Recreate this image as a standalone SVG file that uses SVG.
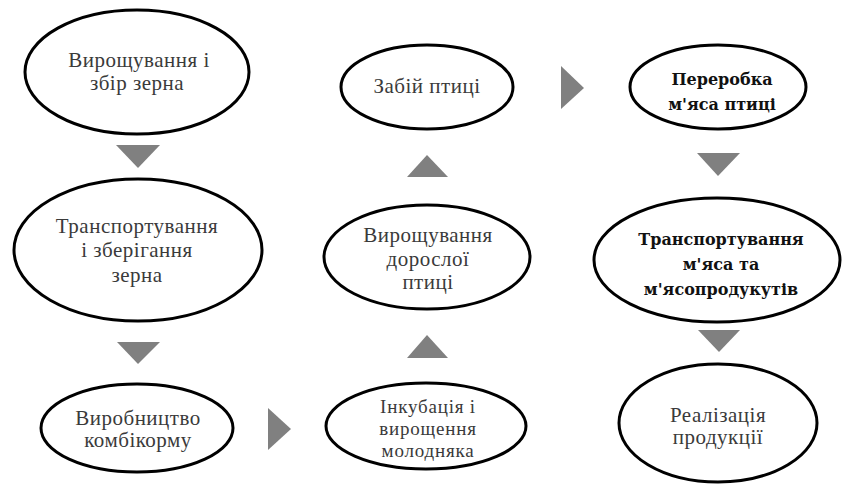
<svg xmlns="http://www.w3.org/2000/svg" width="848" height="488" viewBox="0 0 848 488">
<style>
.n ellipse{fill:#fff;stroke:#000;stroke-width:3}
.t{font-family:"Liberation Serif","Times New Roman",serif;font-size:21px;letter-spacing:0.5px;fill:#3a3a3a;text-anchor:middle}
.s{font-size:19px;letter-spacing:0.8px}
.b{font-family:"DejaVu Serif",serif;font-size:16px;font-weight:bold;fill:#111;text-anchor:middle}
.a{fill:#808080}
</style>
<rect width="848" height="488" fill="#fff"/>
<g id="connectors">
<polygon class="a" points="116,145 160,145 138,168"/>
<polygon class="a" points="117,342 160,342 138,364"/>
<polygon class="a" points="268,408 268,450 291,429"/>
<polygon class="a" points="407,358 448,358 427,335"/>
<polygon class="a" points="407,177 448,177 427,155"/>
<polygon class="a" points="561,66 561,109 584,88"/>
<polygon class="a" points="697,153 740,153 718,176"/>
<polygon class="a" points="698,330 740,330 719,352"/>
</g>
<g id="n1" class="n"><ellipse cx="137" cy="72" rx="112" ry="62"/><text class="t" x="139" y="67">Вирощування і</text><text class="t" x="137" y="90">збір зерна</text></g>
<g id="n2" class="n"><ellipse cx="138" cy="250" rx="124" ry="71"/><text class="t" x="137" y="233">Транспортування</text><text class="t" x="137" y="257">і зберігання</text><text class="t" x="137" y="282">зерна</text></g>
<g id="n3" class="n"><ellipse cx="137" cy="428" rx="96" ry="44"/><text class="t" x="138" y="425">Виробництво</text><text class="t" x="138" y="447">комбікорму</text></g>
<g id="n4" class="n"><ellipse cx="426" cy="426" rx="100" ry="43"/><text class="t s" x="428" y="413">Інкубація і</text><text class="t s" x="428" y="435">вирощення</text><text class="t s" x="428" y="457">молодняка</text></g>
<g id="n5" class="n"><ellipse cx="427" cy="257" rx="103" ry="52"/><text class="t" x="428" y="242">Вирощування</text><text class="t" x="428" y="266">дорослої</text><text class="t" x="428" y="289">птиці</text></g>
<g id="n6" class="n"><ellipse cx="427" cy="87" rx="86" ry="42"/><text class="t" x="427" y="93">Забій птиці</text></g>
<g id="n7" class="n"><ellipse cx="718" cy="87" rx="88" ry="42"/><text class="b" x="722" y="85">Переробка</text><text class="b" x="722" y="110">м'яса птиці</text></g>
<g id="n8" class="n"><ellipse cx="717" cy="260" rx="123" ry="62"/><text class="b" x="721" y="245">Транспортування</text><text class="b" x="721" y="270">м'яса та</text><text class="b" x="721" y="295">м'ясопродукутів</text></g>
<g id="n9" class="n"><ellipse cx="718" cy="423" rx="99" ry="59"/><text class="t" x="718" y="422">Реалізація</text><text class="t" x="718" y="444">продукції</text></g>
</svg>
